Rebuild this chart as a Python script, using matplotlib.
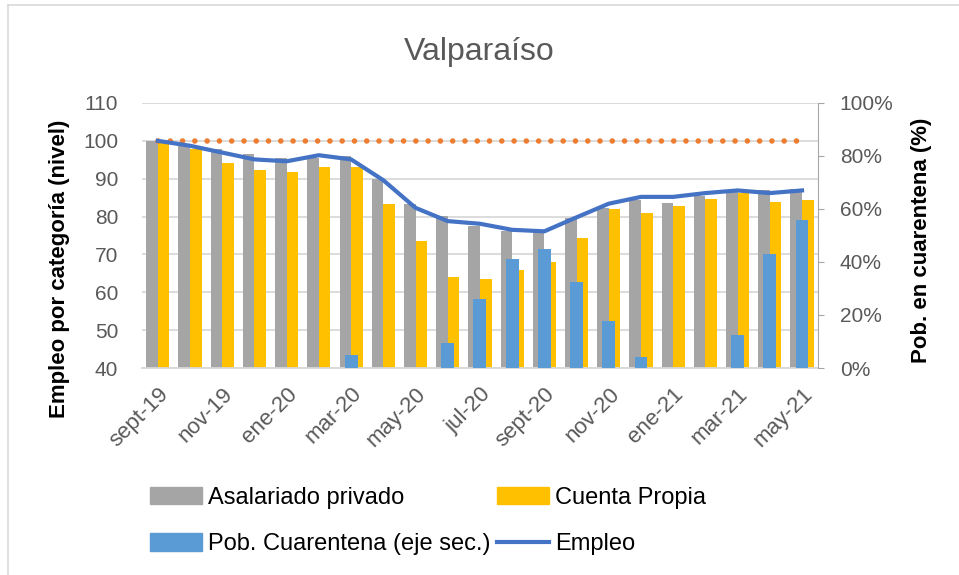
import numpy as np
import matplotlib.pyplot as plt
from matplotlib.patches import Patch
from matplotlib.lines import Line2D
from matplotlib.ticker import PercentFormatter

plt.rcParams['font.family'] = ['Liberation Sans', 'DejaVu Sans']

meses = ['sept-19', 'oct-19', 'nov-19', 'dic-19', 'ene-20', 'feb-20', 'mar-20',
         'abr-20', 'may-20', 'jun-20', 'jul-20', 'ago-20', 'sept-20', 'oct-20',
         'nov-20', 'dic-20', 'ene-21', 'feb-21', 'mar-21', 'abr-21', 'may-21']
asalariado = [100, 98.9, 97.9, 96.5, 95.4, 95.6, 95.9, 90.0, 83.4, 80.2, 77.6,
              76.3, 75.8, 79.6, 82.3, 84.5, 83.5, 85.3, 86.5, 87.1, 87.4]
cuenta_propia = [99.4, 97.8, 94.1, 92.4, 91.7, 93.2, 93.0, 83.4, 73.5, 64.0, 63.5,
                 65.9, 67.9, 74.4, 81.9, 81.0, 82.9, 84.7, 86.2, 83.8, 84.5]
cuarentena = [0, 0, 0, 0, 0, 0, 4.9, 0, 0, 9.4, 26.0,
              41.1, 45.0, 32.4, 17.6, 4.3, 0, 0, 12.3, 43.0, 56.0]
empleo = [100, 98.7, 96.9, 95.1, 94.6, 96.2, 95.1, 89.6, 82.3, 78.8, 78.1,
          76.5, 76.1, 79.8, 83.4, 85.2, 85.2, 86.2, 86.9, 86.2, 86.9]
base = [100] * len(meses)

c_gris = '#A5A5A5'
c_amarillo = '#FFC000'
c_azul = '#5B9BD5'
c_linea = '#4472C4'
c_naranja = '#ED7D31'
c_texto = '#595959'

fig = plt.figure(figsize=(9.59, 5.75), dpi=100)
# borde del area del grafico (solo arriba e izquierda quedan a la vista)
fig.add_artist(Line2D([8 / 959, 1], [1 - 4.5 / 575] * 2, color='#D9D9D9', linewidth=1.2))
fig.add_artist(Line2D([8 / 959] * 2, [0, 1 - 4.5 / 575], color='#D9D9D9', linewidth=1.2))

ax = fig.add_axes([0.1478, 0.36, 0.7053, 0.4609])
ax2 = ax.twinx()

x = np.arange(len(meses))
w = 0.36
ax.bar(x - w / 2, asalariado, width=w, color=c_gris, zorder=2)
ax.bar(x + w / 2, cuenta_propia, width=w, color=c_amarillo, zorder=2)
ax.plot(x, base, linestyle=(0, (0.01, 2.2)), dash_capstyle='round', color=c_naranja,
        linewidth=4, zorder=3)

ax2.bar(x, cuarentena, width=0.4, color=c_azul, zorder=2)

ax.set_ylim(40, 110)
ax.set_yticks(np.arange(40, 111, 10))
ax.set_xlim(-0.5, len(meses) - 0.5)
ax.grid(axis='y', color='#D9D9D9', linewidth=1.3, zorder=0)
ax.set_axisbelow(True)

ax2.set_ylim(0, 100)
ax2.set_yticks(np.arange(0, 101, 20))
ax2.yaxis.set_major_formatter(PercentFormatter(decimals=0))

# la linea Empleo va arriba de las barras azules, en la escala del eje primario
ax3 = ax.twinx()
ax3.set_ylim(40, 110)
ax3.axis('off')
ax3.plot(x, empleo, color=c_linea, linewidth=3, zorder=4)

ax.set_xticks(x[::2])
ax.set_xticklabels(meses[::2], rotation=45, ha='right', rotation_mode='anchor',
                   fontsize=16, color=c_texto)
ax.tick_params(axis='x', length=0, pad=11)
ax.tick_params(axis='y', length=0, labelsize=15, labelcolor=c_texto, pad=17)
ax2.tick_params(axis='y', length=4.5, direction='out', color='#A6A6A6',
                labelsize=15, labelcolor=c_texto, pad=11)

for s in ['top', 'left', 'right']:
    ax.spines[s].set_visible(False)
ax.spines['bottom'].set_color('#D9D9D9')
ax.spines['bottom'].set_linewidth(1.3)
for s in ['top', 'left', 'bottom']:
    ax2.spines[s].set_visible(False)
ax2.spines['right'].set_color('#A6A6A6')

fig.text(60 / 959, 1 - 269 / 575, 'Empleo por categoría (nivel)', rotation=90,
         ha='center', va='center', fontsize=16, fontweight='bold')
fig.text(922 / 959, 1 - 240 / 575, 'Pob. en cuarentena (%)', rotation=90,
         ha='center', va='center', fontsize=16, fontweight='bold')

fig.text(0.5, 0.91, 'Valparaíso', ha='center', va='center', fontsize=23, color=c_texto)

# orden por columnas para que las filas queden como en el original
handles = [Patch(color=c_gris), Patch(color=c_azul), Patch(color=c_amarillo),
           Line2D([0], [0], color=c_linea, linewidth=3)]
labels = ['Asalariado privado', 'Pob. Cuarentena (eje sec.)', 'Cuenta Propia', 'Empleo']
fig.legend(handles, labels, ncol=2, loc='center', bbox_to_anchor=(0.4465, 0.094),
           frameon=False, fontsize=17, handlelength=2.2, handleheight=0.75,
           handletextpad=0.25, columnspacing=0.3, labelspacing=1.05)

plt.savefig('out.png', dpi=100)
